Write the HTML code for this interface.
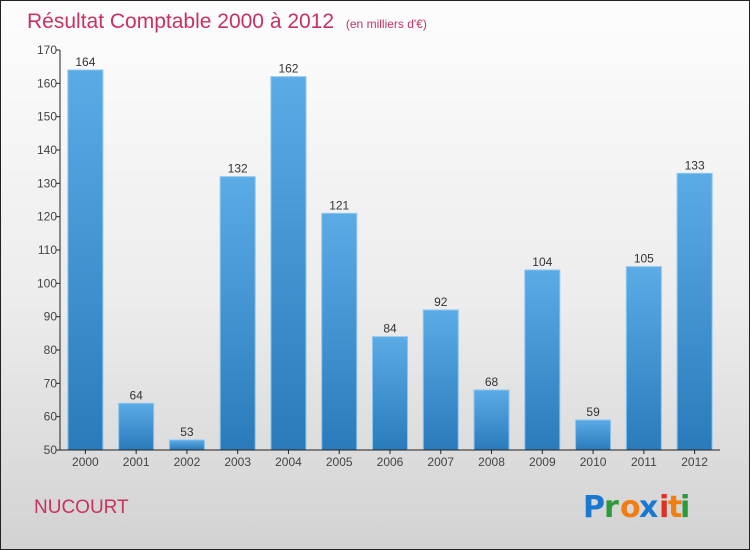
<!DOCTYPE html>
<html><head><meta charset="utf-8"><style>
body{margin:0}
#c{position:relative;width:748px;height:548px;border:1px solid #222;background:linear-gradient(#fdfdfd 0%,#ececec 55%,#d2d2d2 100%);font-family:"Liberation Sans",sans-serif;overflow:hidden}
</style></head><body>
<div id="c">
<svg id="s" width="748" height="548">
<defs><linearGradient id="g" x1="0" y1="0" x2="0" y2="1"><stop offset="0" stop-color="#5aabe6"/><stop offset="1" stop-color="#2a7bbb"/></linearGradient></defs>
<text x="26" y="27" font-size="21" fill="#c8325f">Résultat Comptable 2000 à 2012 <tspan font-size="12" dx="6">(en milliers d'€)</tspan></text>
<text x="33" y="512" font-size="19" fill="#c8325f">NUCOURT</text>
<g font-size="30" font-family="DejaVu Sans, sans-serif" font-weight="bold">
<text x="582" y="516" fill="#1a78d0">P</text><text x="603" y="516" fill="#2a9a3a">r</text><text x="619" y="516" fill="#f07e10">o</text><text x="638" y="516" fill="#1a78d0">x</text><text x="658" y="516" fill="#e03020">i</text><text x="667" y="516" fill="#f07e10">t</text><text x="679" y="516" fill="#2a9a3a">i</text></g>
<g id="plot"></g>
</svg>
</div>
<script>
const categories=["2000","2001","2002","2003","2004","2005","2006","2007","2008","2009","2010","2011","2012"];
const values=[164,64,53,132,162,121,84,92,68,104,59,105,133];
const ticks=[50,60,70,80,90,100,110,120,130,140,150,160,170];
const NS="http://www.w3.org/2000/svg",p=document.getElementById('plot');
const y0=449,y1=49,vmin=50,vmax=170,xl=59,xr=719;
const y=v=>y0-(v-vmin)/(vmax-vmin)*(y0-y1);
const step=(xr-xl)/categories.length;
function el(t,a){const e=document.createElementNS(NS,t);for(const k in a)e.setAttribute(k,a[k]);p.appendChild(e);return e;}
ticks.forEach(t=>{
const l=el('line',{x1:xl-4,x2:xl,y1:y(t),y2:y(t),stroke:'#222'});


const tx=el('text',{x:xl-3,y:y(t)+4,'text-anchor':'end','font-size':12,fill:'#444'});
tx.textContent=t;


});
categories.forEach((c,i)=>{
const cx=xl+step*(i+0.5),w=35,v=values[i];
const r=el('rect',{x:cx-w/2,y:y(v),width:w,height:y0-y(v),fill:'url(#g)',stroke:'#8cc6ef','stroke-width':1});


const vl=el('text',{x:cx,y:y(v)-4,'text-anchor':'middle','font-size':12,fill:'#333'});
vl.textContent=v;


const xl2=el('text',{x:cx,y:y0+16,'text-anchor':'middle','font-size':12,fill:'#444'});
xl2.textContent=c;


const tk=el('line',{x1:cx,x2:cx,y1:y0,y2:y0+4,stroke:'#222'});


});
const ya=el('line',{x1:xl,x2:xl,y1:y1,y2:y0,stroke:'#222'});


const xa=el('line',{x1:xl,x2:xr,y1:y0,y2:y0,stroke:'#222'});


</script>
</body></html>
